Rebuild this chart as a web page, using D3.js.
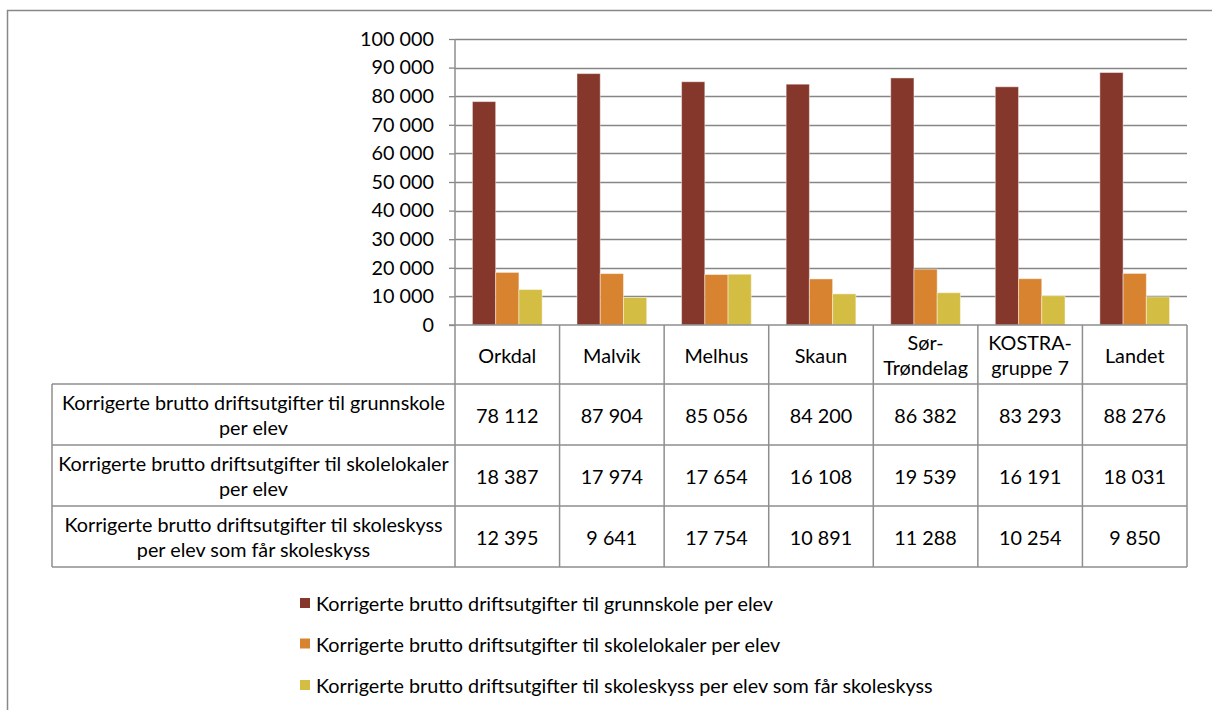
<!DOCTYPE html>
<html>
<head>
<meta charset="utf-8">
<script src="https://cdn.jsdelivr.net/npm/d3@7"></script>
<style>
  html, body { margin: 0; padding: 0; background: #fff; }
  svg { display: block; }
  text { font-family: Lato, "Open Sans", sans-serif; fill: #000; }
</style>
</head>
<body>
<svg id="chart" width="1212" height="710"></svg>
<script>
// ---- data ----
const categories = [["Orkdal"], ["Malvik"], ["Melhus"], ["Skaun"], ["Sør-", "Trøndelag"], ["KOSTRA-", "gruppe 7"], ["Landet"]];
const seriesNames = [
  "Korrigerte brutto driftsutgifter til grunnskole per elev",
  "Korrigerte brutto driftsutgifter til skolelokaler per elev",
  "Korrigerte brutto driftsutgifter til skoleskyss per elev som får skoleskyss"
];
const rowLabels = [
  ["Korrigerte brutto driftsutgifter til grunnskole", "per elev"],
  ["Korrigerte brutto driftsutgifter til skolelokaler", "per elev"],
  ["Korrigerte brutto driftsutgifter til skoleskyss", "per elev som får skoleskyss"]
];
const grunnskole   = [78112, 87904, 85056, 84200, 86382, 83293, 88276];
const skolelokaler = [18387, 17974, 17654, 16108, 19539, 16191, 18031];
const skoleskyss   = [12395, 9641, 17754, 10891, 11288, 10254, 9850];
const yTicks = [0, 10000, 20000, 30000, 40000, 50000, 60000, 70000, 80000, 90000, 100000];
const colors = ["#84372A", "#D8832F", "#D3BE43"];

const series = [grunnskole, skolelokaler, skoleskyss];
const catKeys = categories.map(c => c.join(" "));

// ---- layout ----
const svg = d3.select("#chart");
const plotLeft = 455, plotRight = 1187, yZero = 325, yTop = 39;
const tableLeft = 52;
const headerBottom = 384;
const rowH = 61;
const gridColor = "#868686";
const tableColor = "#8E8E8E";

// measure font size
const probe = svg.append("text").attr("font-size", 100).text(rowLabels[0][0]);
const probeW = probe.node().getComputedTextLength();
probe.remove();
const fs = Math.round(100 * 383 / probeW * 10) / 10;

const fmt = v => d3.format(",")(v).replace(/,/g, "\u00a0");

// outer frame
svg.append("rect").attr("x", 7.5).attr("y", 10.5).attr("width", 1400).attr("height", 900)
  .attr("fill", "none").attr("stroke", "#888").attr("stroke-width", 1.5);

const x = d3.scaleBand().domain(catKeys).range([plotLeft, plotRight]).padding(0);
const bw = x.bandwidth();
const xs = d3.scaleBand().domain([0, 1, 2]).range([bw * 1.5 / 9, bw - bw * 1.5 / 9]).padding(0);
const y = d3.scaleLinear().domain([0, 100000]).range([yZero, yTop]);

// gridlines
svg.append("g").selectAll("line").data(yTicks.filter(t => t > 0)).join("line")
  .attr("x1", plotLeft).attr("x2", plotRight)
  .attr("y1", d => Math.round(y(d)) + 0.5).attr("y2", d => Math.round(y(d)) + 0.5)
  .attr("stroke", gridColor).attr("stroke-width", 1.3);

// y axis
const yAxis = d3.axisLeft(y).tickValues(yTicks).tickSize(6).tickPadding(15).tickFormat(fmt);
const ga = svg.append("g").attr("transform", `translate(${plotLeft},0)`).call(yAxis);
ga.select(".domain").remove();
ga.selectAll(".tick line").attr("stroke", gridColor).attr("stroke-width", 1.3);
ga.selectAll(".tick text").attr("font-size", fs).attr("font-family", "Lato, sans-serif").attr("fill", "#000");

// bars
const groups = svg.append("g").selectAll("g").data(catKeys).join("g")
  .attr("transform", d => `translate(${x(d)},0)`);
groups.selectAll("rect").data((d, i) => series.map((s, k) => ({ k, v: s[i] }))).join("rect")
  .attr("x", d => xs(d.k)).attr("width", xs.bandwidth())
  .attr("y", d => y(d.v)).attr("height", d => yZero - y(d.v))
  .attr("fill", d => colors[d.k])
  .attr("stroke", "rgba(255,255,255,0.45)").attr("stroke-width", 1);

// table lines
const tl = svg.append("g").attr("stroke", tableColor).attr("stroke-width", 1.5).attr("fill", "none");
const tableBottom = headerBottom + rowH * rowLabels.length;
// axis zero line (header top)
tl.append("line").attr("x1", plotLeft - 6).attr("x2", plotRight).attr("y1", yZero).attr("y2", yZero);
// vertical axis line
tl.append("line").attr("x1", plotLeft).attr("x2", plotLeft).attr("y1", yTop).attr("y2", tableBottom);
// column separators
const bounds = catKeys.map(k => x(k) + bw);
tl.selectAll(".vsep").data(bounds).join("line").attr("class", "vsep")
  .attr("x1", d => d).attr("x2", d => d).attr("y1", yZero).attr("y2", tableBottom);
// table left border
tl.append("line").attr("x1", tableLeft).attr("x2", tableLeft).attr("y1", headerBottom).attr("y2", tableBottom);
// horizontal row lines
const rowLines = d3.range(rowLabels.length + 1).map(i => headerBottom + i * rowH);
tl.selectAll(".hsep").data(rowLines).join("line").attr("class", "hsep")
  .attr("x1", tableLeft).attr("x2", plotRight).attr("y1", d => d).attr("y2", d => d);

// category header labels
const lineGap = 25;
const headerMid = (yZero + headerBottom) / 2;
catKeys.forEach((k, i) => {
  const lines = categories[i];
  lines.forEach((ln, j) => {
    svg.append("text").attr("x", x(k) + bw / 2)
      .attr("y", headerMid + (j - (lines.length - 1) / 2) * lineGap)
      .attr("text-anchor", "middle").attr("dominant-baseline", "central")
      .attr("font-size", fs).text(ln);
  });
});

// row labels and values
rowLabels.forEach((lines, r) => {
  const mid = headerBottom + r * rowH + rowH / 2;
  lines.forEach((ln, j) => {
    svg.append("text").attr("x", (tableLeft + plotLeft) / 2)
      .attr("y", mid + (j - (lines.length - 1) / 2) * lineGap)
      .attr("text-anchor", "middle").attr("dominant-baseline", "central")
      .attr("font-size", fs).text(ln);
  });
  series[r].forEach((v, i) => {
    svg.append("text").attr("x", x(catKeys[i]) + bw / 2).attr("y", mid)
      .attr("text-anchor", "middle").attr("dominant-baseline", "central")
      .attr("font-size", fs).text(fmt(v));
  });
});

// legend
const legendY = [603, 643.5, 685];
const lg = svg.append("g");
seriesNames.forEach((name, i) => {
  lg.append("rect").attr("x", 300).attr("y", legendY[i] - 5).attr("width", 10).attr("height", 10)
    .attr("fill", colors[i]);
  lg.append("text").attr("x", 316).attr("y", legendY[i]).attr("dominant-baseline", "central")
    .attr("font-size", fs).text(name);
});
</script>
</body>
</html>
